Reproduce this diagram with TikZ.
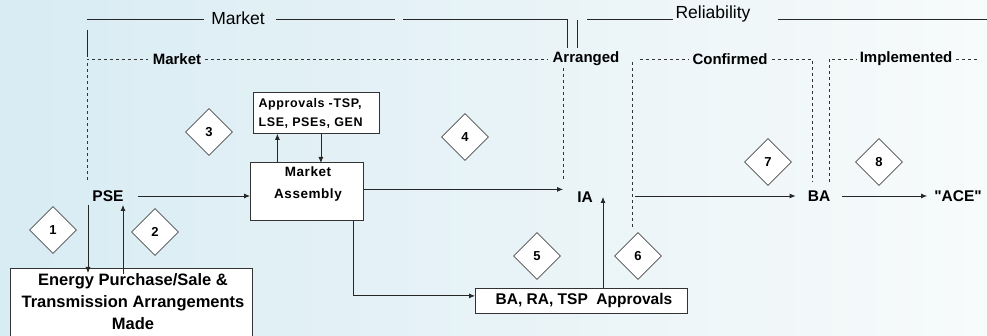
\documentclass[tikz,border=0pt]{standalone}
\usepackage{fontspec}
\setmainfont{Liberation Sans}
\newfontfamily\nolig{Liberation Sans}[Ligatures=TeXOff]
\usetikzlibrary{arrows.meta,shapes.geometric,calc}
\definecolor{bgL}{RGB}{196,226,238}
\definecolor{bgR}{RGB}{244,249,249}
\tikzset{
  arr/.style={-{Latex[length=6pt,width=5pt]},line width=0.8pt,draw=black!85},
  ln/.style={line width=0.8pt,draw=black!85},
  dsh/.style={line width=0.8pt,draw=black!80,dash pattern=on 3pt off 3pt},
  lbl/.style={font=\bfseries\fontsize{15.5}{18}\selectfont,inner sep=2pt},
  toplbl/.style={font=\fontsize{17.5}{20}\selectfont,inner sep=1pt},
  dlbl/.style={font=\bfseries\fontsize{15}{17}\selectfont,inner sep=1pt,fill=none},
  boxn/.style={draw=black!80,line width=0.8pt,fill=white,align=center},
  dmd/.style={diamond,draw=black!70,line width=0.6pt,fill=white,minimum width=47pt,minimum height=47pt,inner sep=0pt,font=\bfseries\fontsize{13}{15}\selectfont}
}
\begin{document}
\begin{tikzpicture}[x=1pt,y=-1pt]
\useasboundingbox (0,0) rectangle (987,336);
\clip (0,0) rectangle (987,336);
\shade[left color=bgL,right color=bgR] (0,0) rectangle (987,336);
\fill[white,opacity=0.35] (0,0) rectangle (987,336);

% top solid bracket lines
\node[toplbl] (tmkt) at (238,18) {Market};
\node[toplbl] (trel) at (713,14) {Reliability};
\coordinate (t1) at (87,19);
\draw[ln] (t1) -- ([xshift=-6pt]tmkt.west |- t1);
\draw[ln] ([xshift=10pt]tmkt.east |- t1) -- (395,19);
\draw[ln] (403,19) -- (567,19) -- (567,48);
\draw[ln] (577,20) -- (577,48);
\draw[ln] (587,19) -- ([xshift=-1pt]trel.west |- t1);
\draw[ln] (778,19) -- (987,19);
\draw[ln] (87,30) -- (87,57);

% dashed row
\node[dlbl] (dmkt) at (177,59) {Market};
\node[dlbl] (darr) at (586,59) {Arranged};
\node[dlbl] (dcon) at (730,59) {Confirmed};
\node[dlbl] (dimp) at (906,59) {Implemented};
\draw[dsh] (87,180) -- (87,59) -- ([xshift=-4pt]dmkt.west);
\draw[dsh] ([xshift=3pt]dmkt.east) -- ([xshift=-4pt]darr.west);
\draw[dsh] (563,68) -- (563,180);
\draw[dsh] (632,227) -- (632,60);
\draw[dsh] (640,59) -- ([xshift=-2pt]dcon.west);
\draw[dsh] ([xshift=3pt]dcon.east) -- (812,59) -- (812,182);
\draw[dsh] (829,182) -- (829,59) -- ([xshift=-2pt]dimp.west);
\draw[dsh] ([xshift=3pt]dimp.east) -- (980,59);

% nodes
\node[lbl] (PSE) at (108,196) {PSE};
\node[lbl] (IA) at (585,197) {IA};
\node[lbl] (BA) at (819,196) {BA};
\node[lbl] (ACE) at (958,196) {\nolig "ACE"};

\node[boxn,minimum width=113pt,minimum height=58pt,anchor=north west,inner sep=0pt] (MA) at (250,162) {};
\node[font=\bfseries\fontsize{13.5}{22}\selectfont\addfontfeatures{LetterSpace=4},align=center] (MAt) at (308,184) {Market\\Assembly};

\node[boxn,minimum width=126pt,minimum height=41pt,anchor=north west,inner sep=0pt] (APP) at (253,92) {};
\node[font=\bfseries\fontsize{12.5}{19}\selectfont\addfontfeatures{LetterSpace=5},align=left,anchor=west] (APPt) at (255,113) {Approvals -TSP,\\LSE, PSEs, GEN};

\node[boxn,minimum width=212pt,minimum height=25pt,anchor=north west,inner sep=0pt] (BRT) at (475,288) {};
\node[lbl] (BRTt) at (584,300) {BA, RA, TSP\ \ Approvals};

\node[boxn,minimum width=242pt,minimum height=80pt,anchor=north west,inner sep=0pt] (EN) at (10,268) {};
\node[font=\bfseries\fontsize{16.5}{22}\selectfont,align=center] (ENt) at (133,302) {Energy Purchase/Sale \&\\Transmission Arrangements\\Made};

% connectors
\draw[arr] ([xshift=12pt]PSE.east) -- (MA.west |- PSE.east);
\draw[arr] ([xshift=-29.5pt,yshift=-0.5pt]MA.north) -- ([xshift=-29.5pt]MA.north |- APP.south);
\draw[arr] ([xshift=4.5pt]APP.south) -- ([xshift=4.5pt,yshift=-1pt]APP.south |- MA.north);
\coordinate (maR) at ($(MA.east)+(0,-2)$);
\draw[arr] (maR) -- ([xshift=-12pt]IA.west |- maR);
\draw[arr] ([xshift=46.5pt]MA.south) |- ([yshift=5pt]BRT.west);
\coordinate (iaup) at (603,197);
\draw[arr] (BRT.north -| iaup) -- (iaup);
\coordinate (pd) at (88,205);
\coordinate (pu) at (123,205);
\draw[arr] (pd) -- ([yshift=-5pt]EN.north -| pd);
\draw[arr] ([yshift=-6pt]EN.north -| pu) -- (pu);
\coordinate (c7) at (635,196);
\draw[arr] (c7) -- ([xshift=-10pt]BA.west |- c7);
\draw[arr] ([xshift=10pt]BA.east) -- ([xshift=-5pt]ACE.west);

% diamonds
\node[dmd] (d1) at (53,230) {1};
\node[dmd] (d2) at (155,232) {2};
\node[dmd] (d3) at (209,132) {3};
\node[dmd] (d4) at (465,137) {4};
\node[dmd] (d5) at (537,256) {5};
\node[dmd] (d6) at (638,256) {6};
\node[dmd] (d7) at (768,162) {7};
\node[dmd] (d8) at (879,162) {8};
\end{tikzpicture}
\end{document}
